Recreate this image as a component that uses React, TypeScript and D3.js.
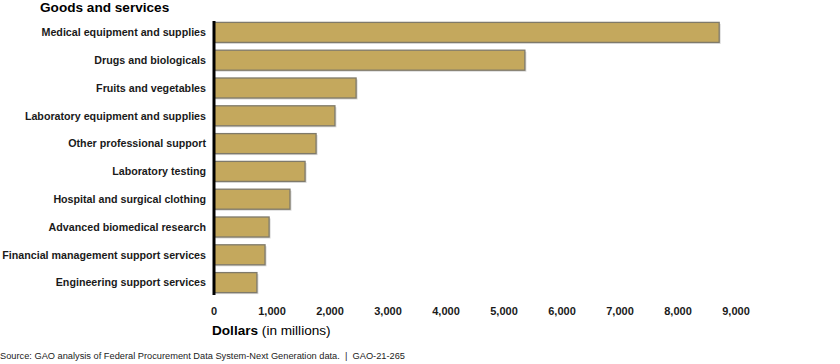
import React from 'react';
import * as d3 from 'd3';

const categories = [
  'Medical equipment and supplies',
  'Drugs and biologicals',
  'Fruits and vegetables',
  'Laboratory equipment and supplies',
  'Other professional support',
  'Laboratory testing',
  'Hospital and surgical clothing',
  'Advanced biomedical research',
  'Financial management support services',
  'Engineering support services',
];

// dollars in millions
const values = [8710, 5360, 2450, 2085, 1760, 1570, 1310, 950, 880, 740];

const ticks = [0, 1000, 2000, 3000, 4000, 5000, 6000, 7000, 8000, 9000];

const font = '"Liberation Sans", Arial, sans-serif';

export default function App() {
  const width = 840;
  const height = 364;

  const x = d3.scaleLinear().domain([0, 9000]).range([214, 736]);
  const y = d3
    .scaleBand()
    .domain(categories)
    .range([18.5, 296.5])
    .paddingInner(0.28)
    .paddingOuter(0.14);

  const fmt = d3.format(',');

  return (
    <svg
      width={width}
      height={height}
      style={{ position: 'absolute', left: 0, top: 0, background: '#fff' }}
      fontFamily={font}
    >
      <text x={40} y={12} fontSize={13.6} fontWeight="bold" fill="#000">
        Goods and services
      </text>

      {categories.map((c, i) => (
        <g key={c}>
          <rect
            x={x(0) + 1.5}
            y={(y(c) as number) + 1.5}
            width={x(values[i]) - x(0)}
            height={y.bandwidth()}
            fill="#d8d8d8"
          />
          <rect
            x={x(0)}
            y={y(c)}
            width={x(values[i]) - x(0)}
            height={y.bandwidth()}
            fill="#c4a85d"
            stroke="#7f7a6a"
            strokeWidth={1.3}
          />
          <text
            x={206}
            y={(y(c) as number) + y.bandwidth() / 2}
            dy="0.35em"
            textAnchor="end"
            fontSize={10.7}
            fontWeight="bold"
            fill="#1a1a1a"
          >
            {c}
          </text>
        </g>
      ))}

      <line x1={x(0)} x2={x(0)} y1={21} y2={295} stroke="#000" strokeWidth={3} />

      {ticks.map(t => (
        <text
          key={t}
          x={x(t)}
          y={315}
          textAnchor="middle"
          fontSize={11}
          fontWeight="bold"
          fill="#1a1a1a"
        >
          {fmt(t)}
        </text>
      ))}

      <text x={212} y={335} fontSize={13.6} fill="#000">
        <tspan fontWeight="bold">Dollars</tspan>
        <tspan> (in millions)</tspan>
      </text>

      <text x={0} y={359} fontSize={9.25} fill="#222" style={{ whiteSpace: 'pre' }}>
        {'Source: GAO analysis of Federal Procurement Data System-Next Generation data.  |  GAO-21-265'}
      </text>
    </svg>
  );
}
